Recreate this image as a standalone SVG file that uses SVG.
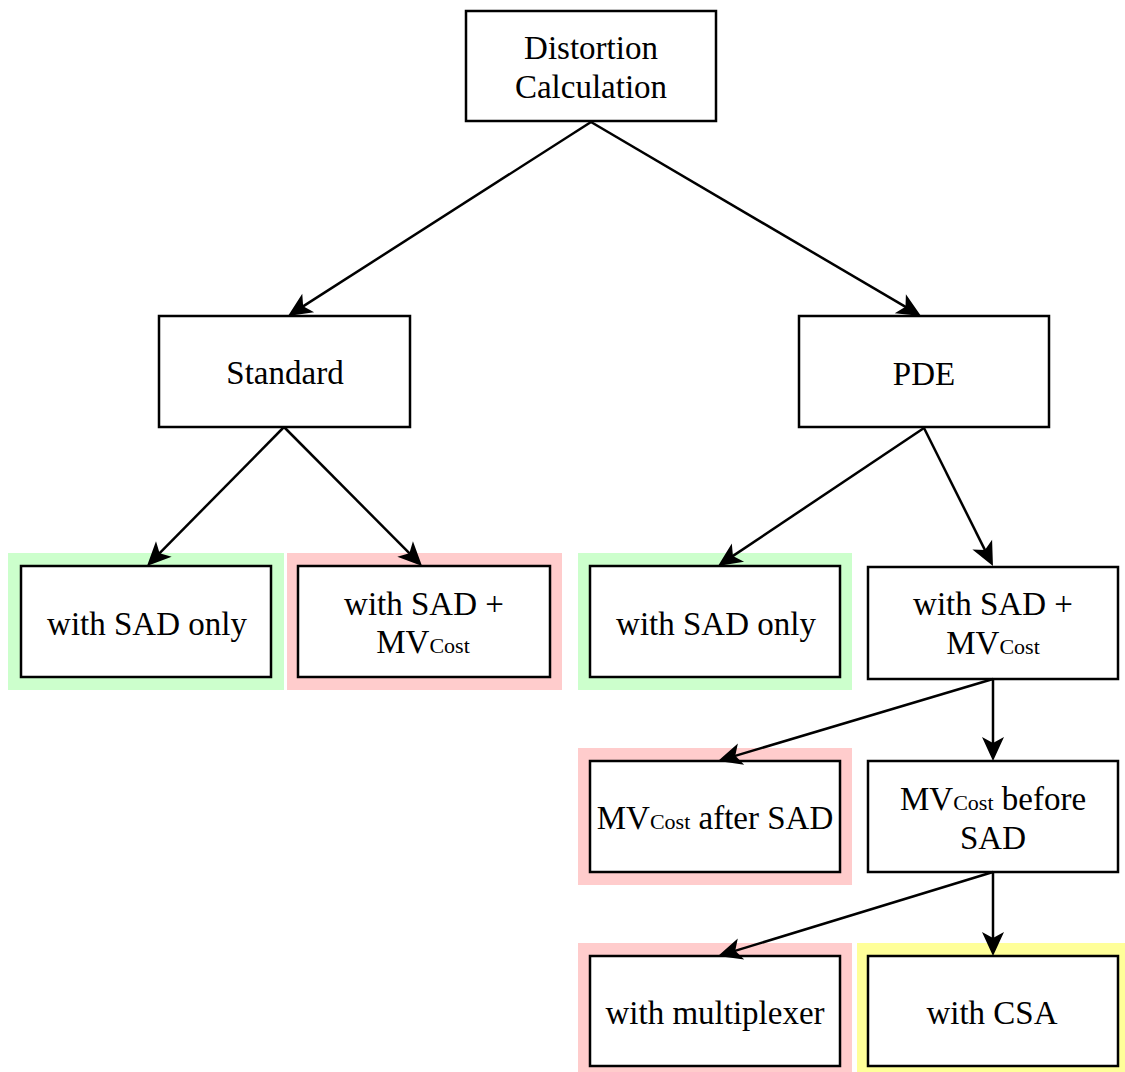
<svg xmlns="http://www.w3.org/2000/svg" width="1125" height="1072" viewBox="0 0 1125 1072">
  <style>
    .box { fill: #ffffff; stroke: #000000; stroke-width: 2.5; }
    .green { fill: #ccffcc; }
    .red { fill: #ffcccc; }
    .yellow { fill: #ffff99; }
    .lbl { font-family: "Liberation Serif", "Times New Roman", serif; font-size: 33px; fill: #000000; text-anchor: middle; }
    .sub { font-size: 22px; }
    .edge { stroke: #000000; stroke-width: 2.5; fill: none; marker-end: url(#arrow); }
  </style>
  <defs>
    <!-- notched arrowhead; tip sits 10px beyond the line end -->
    <marker id="arrow" markerUnits="userSpaceOnUse" markerWidth="24" markerHeight="22" viewBox="0 0 24 22" refX="14" refY="11" orient="auto" overflow="visible">
      <path d="M0,0 L24,11 L0,22 L6,11 Z" fill="#000000"/>
    </marker>
  </defs>
  <rect width="1125" height="1072" fill="#ffffff"/>

  <g id="distortion">
    <rect class="box" x="466" y="11" width="250" height="110"/>
    <text class="lbl" x="591" y="59">Distortion</text>
    <text class="lbl" x="591" y="98">Calculation</text>
  </g>

  <g id="standard">
    <rect class="box" x="159" y="316" width="251" height="111"/>
    <text class="lbl" x="285" y="384">Standard</text>
  </g>

  <g id="pde">
    <rect class="box" x="799" y="316" width="250" height="111"/>
    <text class="lbl" x="924" y="385">PDE</text>
  </g>

  <g id="std-sad-only">
    <rect class="green" x="8" y="553" width="276" height="137"/>
    <rect class="box" x="21" y="566" width="250" height="111"/>
    <text class="lbl" x="147" y="635">with SAD only</text>
  </g>

  <g id="std-sad-mvcost">
    <rect class="red" x="287" y="553" width="275" height="137"/>
    <rect class="box" x="298" y="566" width="252" height="111"/>
    <text class="lbl" x="424" y="615">with SAD +</text>
    <text class="lbl" x="423" y="653">MV<tspan class="sub">Cost</tspan></text>
  </g>

  <g id="pde-sad-only">
    <rect class="green" x="578" y="553" width="274" height="137"/>
    <rect class="box" x="590" y="566" width="250" height="111"/>
    <text class="lbl" x="716" y="635">with SAD only</text>
  </g>

  <g id="pde-sad-mvcost">
    <rect class="box" x="868" y="567" width="250" height="112"/>
    <text class="lbl" x="993" y="615">with SAD +</text>
    <text class="lbl" x="993" y="654">MV<tspan class="sub">Cost</tspan></text>
  </g>

  <g id="mvcost-after">
    <rect class="red" x="578" y="748" width="274" height="137"/>
    <rect class="box" x="590" y="761" width="250" height="111"/>
    <text class="lbl" x="715" y="829">MV<tspan class="sub">Cost</tspan> after SAD</text>
  </g>

  <g id="mvcost-before">
    <rect class="box" x="868" y="761" width="250" height="111"/>
    <text class="lbl" x="993" y="810">MV<tspan class="sub">Cost</tspan> before</text>
    <text class="lbl" x="993" y="849">SAD</text>
  </g>

  <g id="with-mux">
    <rect class="red" x="578" y="943" width="274" height="129"/>
    <rect class="box" x="590" y="956" width="250" height="110"/>
    <text class="lbl" x="715" y="1024">with multiplexer</text>
  </g>

  <g id="with-csa">
    <rect class="yellow" x="857" y="943" width="268" height="129"/>
    <rect class="box" x="868" y="956" width="250" height="110"/>
    <text class="lbl" x="992" y="1024">with CSA</text>
  </g>

  <!-- connectors, drawn last so arrowheads sit over the highlight bands -->
  <g id="edges">
    <line class="edge" x1="591" y1="122" x2="296.4" y2="310.6"/>
    <line class="edge" x1="591" y1="122" x2="912.4" y2="310.9"/>
    <line class="edge" x1="284" y1="427" x2="154" y2="558.9"/>
    <line class="edge" x1="284" y1="427" x2="415" y2="558.9"/>
    <line class="edge" x1="924" y1="428" x2="726.3" y2="560.4"/>
    <line class="edge" x1="924" y1="428" x2="988.5" y2="557.1"/>
    <line class="edge" x1="993" y1="679" x2="727.6" y2="758.1"/>
    <line class="edge" x1="993" y1="679" x2="993" y2="751"/>
    <line class="edge" x1="993" y1="872" x2="727.6" y2="953.1"/>
    <line class="edge" x1="993" y1="872" x2="993" y2="946"/>
  </g>
</svg>
